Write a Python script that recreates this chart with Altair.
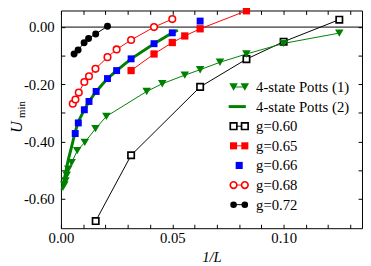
import altair as alt
import pandas as pd

# ---------------- data ----------------
# 4-state Potts (1): green down-triangles + thin line
p1_x = [0.0015, 0.0020, 0.0026, 0.0033, 0.0048, 0.0073, 0.0107, 0.0155, 0.0204,
        0.0385, 0.0455, 0.0556, 0.0625, 0.0714, 0.0833, 0.1000, 0.1250]
p1_y = [-0.552, -0.538, -0.518, -0.497, -0.474, -0.432, -0.403, -0.355, -0.312,
        -0.225, -0.198, -0.168, -0.149, -0.123, -0.094, -0.057, -0.021]
# 4-state Potts (2): thick green curve
p2_x = [0.0005, 0.0033, 0.0048, 0.0062, 0.0077, 0.0107, 0.0126, 0.0158, 0.0209,
        0.0250, 0.0315, 0.0418, 0.0500, 0.0525]
p2_y = [-0.570, -0.463, -0.418, -0.372, -0.332, -0.286, -0.260, -0.225, -0.180,
        -0.152, -0.111, -0.058, -0.020, -0.011]
# g=0.60 open black squares
g60_x = [0.0156, 0.0315, 0.0625, 0.0833, 0.1000, 0.1250]
g60_y = [-0.678, -0.448, -0.209, -0.112, -0.051, 0.026]
# g=0.65 red filled squares
g65_x = [0.0315, 0.0418, 0.0500, 0.0556, 0.0625, 0.0833]
g65_y = [-0.152, -0.094, -0.054, -0.031, -0.006, 0.057]
# g=0.66 blue squares (no line)
g66_x = [0.0064, 0.0078, 0.0105, 0.0126, 0.0158, 0.0209, 0.0250, 0.0315, 0.0418, 0.0500, 0.0625]
g66_y = [-0.372, -0.335, -0.289, -0.260, -0.225, -0.180, -0.152, -0.111, -0.058, -0.020, 0.021]
# g=0.68 open red circles
g68_x = [0.0053, 0.0065, 0.0080, 0.0105, 0.0126, 0.0155, 0.0209, 0.0250, 0.0315, 0.0418, 0.0500]
g68_y = [-0.268, -0.253, -0.229, -0.192, -0.172, -0.146, -0.105, -0.078, -0.045, 0.000, 0.028]
# g=0.72 black filled circles
g72_x = [0.0059, 0.0077, 0.0104, 0.0124, 0.0156, 0.0209]
g72_y = [-0.094, -0.080, -0.055, -0.040, -0.024, 0.003]

legend_labels = ["4-state Potts (1)", "4-state Potts (2)", "g=0.60", "g=0.65",
                 "g=0.66", "g=0.68", "g=0.72"]
x_tick_values = [round(0.01 * i, 2) for i in range(14)]
y_tick_values = [round(-0.1 * i, 1) for i in range(7)]

# ---------------- styling ----------------
FONT = "Liberation Serif"
GREEN, RED, BLUE, BLACK = "#008000", "#ff0000", "#0000ff", "#000000"
W, H = 307, 222

xs = alt.Scale(domain=[0, 0.1352], nice=False, zero=False)
ys = alt.Scale(domain=[-0.703, 0.058], nice=False, zero=False)

xaxis = alt.Axis(values=x_tick_values,
                 labelExpr="round(datum.value*100) % 5 == 0 ? format(datum.value, '.2f') : ''",
                 domain=False, grid=False, tickSize=4, offset=-4, tickColor=BLACK,
                 labelPadding=3, labelFontSize=15, labelFont=FONT, labelColor=BLACK,
                 labelOverlap=False, labelFlush=False,
                 title="1/L", titleFont=FONT, titleFontSize=15, titleFontStyle="italic",
                 titleFontWeight="normal", titleColor=BLACK, titlePadding=4)
yaxis = alt.Axis(values=y_tick_values,
                 labelExpr="round(datum.value*10) % 2 == 0 ? (datum.value < -0.001 ? '-' : '') + format(abs(datum.value), '.2f') : ''",
                 domain=False, grid=False, tickSize=4, offset=-4, tickColor=BLACK,
                 labelPadding=7, labelFontSize=15, labelFont=FONT, labelColor=BLACK,
                 labelOverlap=False, labelFlush=False, title=None)


def df(x, y):
    return pd.DataFrame({"x": x, "y": y})


def enc(ch):
    return ch.encode(x=alt.X("x:Q", scale=xs, axis=xaxis),
                     y=alt.Y("y:Q", scale=ys, axis=yaxis))


layers = []
one = pd.DataFrame({"a": [0]})

# zero line
layers.append(alt.Chart(pd.DataFrame({"y": [0.0]})).mark_rule(color=BLACK, strokeWidth=1)
              .encode(y=alt.Y("y:Q", scale=ys, axis=yaxis)))

# g=0.60
d = df(g60_x, g60_y)
layers.append(enc(alt.Chart(d).mark_line(color=BLACK, strokeWidth=1)))
layers.append(enc(alt.Chart(d).mark_point(shape="square", size=42, filled=True, fill="white",
                                          stroke=BLACK, strokeWidth=1.7, opacity=1)))
# Potts (1)
d = df(p1_x, p1_y)
layers.append(enc(alt.Chart(d).mark_line(color=GREEN, strokeWidth=1)))
layers.append(enc(alt.Chart(d).mark_point(shape="triangle-down", size=75, filled=True,
                                          color=GREEN, opacity=1)))
# Potts (2)
layers.append(enc(alt.Chart(df(p2_x, p2_y)).mark_line(color=GREEN, strokeWidth=3)))
# g=0.65
d = df(g65_x, g65_y)
layers.append(enc(alt.Chart(d).mark_line(color=RED, strokeWidth=1)))
layers.append(enc(alt.Chart(d).mark_point(shape="square", size=55, filled=True,
                                          color=RED, opacity=1)))
# g=0.66
layers.append(enc(alt.Chart(df(g66_x, g66_y)).mark_point(shape="square", size=50, filled=True,
                                                          color=BLUE, opacity=1)))
# g=0.68
d = df(g68_x, g68_y)
layers.append(enc(alt.Chart(d).mark_line(color=RED, strokeWidth=1)))
layers.append(enc(alt.Chart(d).mark_point(shape="circle", size=45, filled=True, fill="white",
                                          stroke=RED, strokeWidth=1.6, opacity=1)))
# g=0.72
d = df(g72_x, g72_y)
layers.append(enc(alt.Chart(d).mark_line(color=BLACK, strokeWidth=1)))
layers.append(enc(alt.Chart(d).mark_point(shape="circle", size=50, filled=True,
                                          color=BLACK, opacity=1)))

# ---------------- manual legend ----------------
LX1, LX2, LXT, LY0, LDY = 176, 187.5, 199, 78, 20
legend_style = [
    # (color, shape, fill, line, thick)
    (GREEN, "triangle-down", GREEN, True, False),
    (GREEN, None, None, True, True),
    (BLACK, "square", "white", True, False),
    (RED, "square", RED, True, False),
    (BLUE, "square", BLUE, False, False),
    (RED, "circle", "white", True, False),
    (BLACK, "circle", BLACK, True, False),
]
for i, (label, (col, shp, fil, has_line, thick)) in enumerate(zip(legend_labels, legend_style)):
    yv = LY0 + LDY * i
    base = alt.Chart(one)
    if has_line:
        if thick:
            layers.append(base.mark_rule(color=col, strokeWidth=3).encode(
                x=alt.value(LX1 - 5), x2=alt.value(LX2 + 1), y=alt.value(yv)))
        else:
            layers.append(base.mark_rule(color=col, strokeWidth=1).encode(
                x=alt.value(LX1), x2=alt.value(LX2), y=alt.value(yv)))
    if shp is not None:
        sz = {"triangle-down": 75, "square": 45, "circle": 45}[shp]
        if shp == "square" and fil != "white":
            sz = 52
        xs_pts = [LX1, LX2] if has_line else [(LX1 + LX2) / 2]
        for xp in xs_pts:
            if fil == "white":
                m = base.mark_point(shape=shp, size=sz, filled=True, fill="white", stroke=col,
                                    strokeWidth=1.7, opacity=1)
            else:
                m = base.mark_point(shape=shp, size=sz, filled=True, color=col, opacity=1)
            layers.append(m.encode(x=alt.value(xp), y=alt.value(yv)))
    layers.append(base.mark_text(text=label, font=FONT, fontSize=15, align="left",
                                 baseline="middle", color=BLACK)
                  .encode(x=alt.value(LXT), y=alt.value(yv)))

# ---------------- y title U_min ----------------
layers.append(alt.Chart(one).mark_text(text="U", font=FONT, fontSize=16, fontStyle="italic",
                                       angle=270, align="center", baseline="middle", color=BLACK)
              .encode(x=alt.value(-45), y=alt.value(119)))
layers.append(alt.Chart(one).mark_text(text="min", font=FONT, fontSize=11,
                                       angle=270, align="center", baseline="middle", color=BLACK)
              .encode(x=alt.value(-40), y=alt.value(101)))

main = alt.layer(*layers)

# mirrored ticks on top and right
axes_layer = alt.Chart(pd.DataFrame({"x": [0.05], "y": [-0.3]})).mark_point(opacity=0).encode(
    x=alt.X("x:Q", scale=xs, axis=alt.Axis(orient="top", values=x_tick_values, labels=False,
                                             domain=False, grid=False, tickSize=4, offset=-4,
                                             tickColor=BLACK, title=None)),
    y=alt.Y("y:Q", scale=ys, axis=alt.Axis(orient="right", values=y_tick_values, labels=False,
                                             domain=False, grid=False, tickSize=4, offset=-4,
                                             tickColor=BLACK, title=None)),
)

chart = alt.layer(main, axes_layer).resolve_scale(x="independent", y="independent").properties(
    width=W, height=H,
    autosize=alt.AutoSizeParams(type="none"),
    padding={"left": 54, "top": 0, "right": 1, "bottom": 36},
    background="white",
).configure_view(stroke=BLACK, strokeWidth=1).configure_axis(
    labelFont=FONT, titleFont=FONT).configure_text(font=FONT)

chart.save("out.html", embed_options={"renderer": "svg", "actions": False})
